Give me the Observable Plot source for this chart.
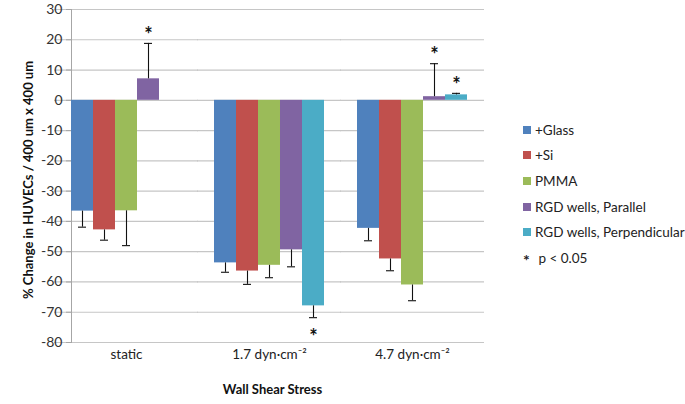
<!DOCTYPE html>
<html><head><meta charset="utf-8">
<script src="https://cdn.jsdelivr.net/npm/d3@7"></script>
<script src="https://cdn.jsdelivr.net/npm/@observablehq/plot@0.6"></script>
<style>
body{margin:0;background:#fff;font-family:Lato,"Liberation Sans",sans-serif;}
#wrap{position:relative;width:685px;height:404px;}
#legend{position:absolute;left:523px;top:117px;font-size:13.5px;color:#222;}
#legend .it{height:25.6px;display:flex;align-items:center;white-space:nowrap;}
#legend .sw{width:8px;height:8px;margin-right:4px;display:inline-block;}
</style></head>
<body><div id="wrap"><div id="chart"></div><div id="legend"></div></div>
<script>
const groups = ["static", "1.7 dyn·cm⁻²", "4.7 dyn·cm⁻²"];
const series = ["+Glass", "+Si", "PMMA", "RGD wells, Parallel", "RGD wells, Perpendicular"];
const colors = ["#4F81BD", "#C0504D", "#9BBB59", "#8064A2", "#4BACC6"];
const yTicks = [30, 20, 10, 0, -10, -20, -30, -40, -50, -60, -70, -80];

const glass = [-36.6, -53.7, -42.3];
const glassErr = [5.3, 3.1, 4.1];
const si = [-42.8, -56.4, -52.4];
const siErr = [3.4, 4.4, 3.9];
const pmma = [-36.5, -54.5, -61.0];
const pmmaErr = [11.5, 4.1, 5.2];
const parallel = [7.1, -49.4, 1.2];
const parallelErr = [11.7, 5.6, 10.9];
const perpendicular = [null, -67.9, 1.8];
const perpendicularErr = [null, 3.9, 0.5];
// significance (p < 0.05) per series per group
const sig = [
  [false, false, false],
  [false, false, false],
  [false, false, false],
  [true, false, true],
  [false, true, true]
];

const vals = [glass, si, pmma, parallel, perpendicular];
const errs = [glassErr, siErr, pmmaErr, parallelErr, perpendicularErr];
const rows = [];
series.forEach((s, i) => groups.forEach((g, j) => {
  const v = vals[i][j];
  if (v == null) return;
  const e = errs[i][j];
  rows.push({group: g, series: s, value: v, end: v >= 0 ? v + e : v - e, sig: sig[i][j]});
}));
const sigUp = rows.filter(d => d.sig && d.value >= 0);
const sigDown = rows.filter(d => d.sig && d.value < 0);

const chart = Plot.plot({
  width: 685, height: 404,
  marginLeft: 53, marginRight: 200, marginTop: 9, marginBottom: 62,
  style: {fontFamily: "Lato, 'Liberation Sans', sans-serif", fontSize: "13.5px", color: "#333", background: "#fff", overflow: "visible"},
  fx: {domain: groups, paddingInner: 0.229, paddingOuter: 0.1146, label: null},
  x: {domain: series, padding: 0, axis: null},
  y: {domain: [-80, 30], label: null},
  color: {domain: series, range: colors},
  marks: [
    Plot.ruleY(yTicks, {stroke: "#c6c6c6", strokeWidth: 1.2, insetLeft: -17, insetRight: -17}),
    Plot.frame({anchor: "left", stroke: "#a6a6a6", facet: "super"}),
    Plot.barY(rows, {fx: "group", x: "series", y: "value", fill: "series"}),
    Plot.ruleX(rows, {fx: "group", x: "series", y1: "value", y2: "end", stroke: "#111", strokeWidth: 1.1}),
    Plot.tickY(rows, {fx: "group", x: "series", y: "end", stroke: "#111", strokeWidth: 1.1, insetLeft: 7, insetRight: 7}),
    Plot.text(sigUp, {fx: "group", x: "series", y: "end", text: () => "*", dy: -8, fontSize: 20, fontWeight: "bold", fill: "#111"}),
    Plot.text(sigDown, {fx: "group", x: "series", y: "end", text: () => "*", dy: 20, fontSize: 20, fontWeight: "bold", fill: "#111"}),
    Plot.axisY({ticks: yTicks, tickFormat: d => String(d), tickSize: 5, tickPadding: 4, stroke: "#a6a6a6", fill: "#333", fontSize: 14, label: null}),
    Plot.axisFx({anchor: "bottom", tickSize: 0, tickPadding: 7, label: null, fill: "#222"}),
    Plot.text(["% Change in HUVECs / 400 um x 400 um"], {frameAnchor: "left", textAnchor: "middle", dx: -43, dy: 4, rotate: -90, fontWeight: "bold", fontSize: 13, fill: "#111", facet: "super"}),
    Plot.text(["Wall Shear Stress"], {frameAnchor: "bottom", dy: 51, dx: 3, fontWeight: "bold", fontSize: 13, fill: "#111", facet: "super"})
  ]
});
document.getElementById("chart").appendChild(chart);

const legend = document.getElementById("legend");
series.forEach((s, i) => {
  const it = document.createElement("div");
  it.className = "it";
  it.innerHTML = `<span class="sw" style="background:${colors[i]}"></span><span>${s}</span>`;
  legend.appendChild(it);
});
const note = document.createElement("div");
note.className = "it";
note.innerHTML = `<span style="font-weight:bold;width:12px;display:inline-block;font-size:16px;position:relative;top:2px">*</span><span>&nbsp;p &lt; 0.05</span>`;
legend.appendChild(note);
</script>
</body></html>
